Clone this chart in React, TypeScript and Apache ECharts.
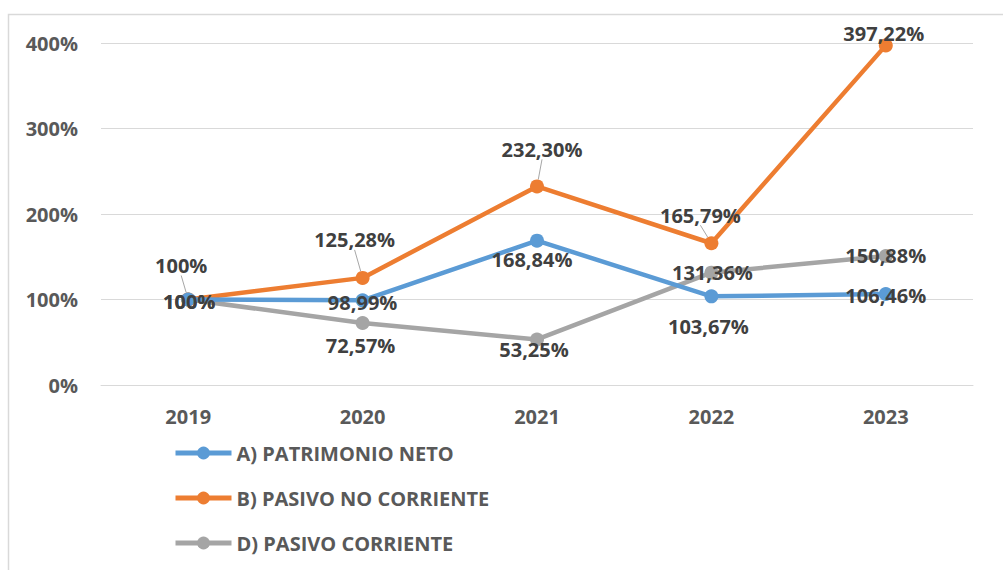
import React, { useEffect, useRef } from "react";
import * as echarts from "echarts";

const years = ["2019", "2020", "2021", "2022", "2023"];
const patrimonioNeto = [100, 98.99, 168.84, 103.67, 106.46];
const pasivoNoCorriente = [100, 125.28, 232.3, 165.79, 397.22];
const pasivoCorriente = [100, 72.57, 53.25, 131.36, 150.88];
const seriesNames = ["A) PATRIMONIO NETO", "B) PASIVO NO CORRIENTE", "D) PASIVO CORRIENTE"];
const yTicks = [0, 100, 200, 300, 400];

// label offsets (dx, dy) from each point
const offsA = [[1, 2], [0, 2], [-5, 19], [-3, 30], [0, 2]];
const offsB = [[-7, -34], [-8, -38], [5, -37], [-11, -28], [-2, -12]];
const offsC = [[1, 2], [-2, 23], [-3, 10], [1, 0], [0, 0]];

const FONT = "'Open Sans', 'Noto Sans', sans-serif";

function fmt(v: number): string {
  if (Math.round(v) === v) return v + "%";
  return v.toFixed(2).replace(".", ",") + "%";
}

export default function App() {
  const ref = useRef<HTMLDivElement>(null);
  useEffect(() => {
    if (!ref.current) return;
    const chart = echarts.init(ref.current, undefined, { renderer: "svg" });
    const mk = (name: string, data: number[], color: string, offs: number[][], z: number) => ({
      name,
      type: "line",
      data,
      z,
      symbol: "circle",
      symbolSize: 14,
      lineStyle: { width: 4.5, color },
      itemStyle: { color },
      label: {
        show: true,
        position: "inside",
        formatter: (p: any) => fmt(p.value),
        color: "#404040",
        fontFamily: FONT,
        fontWeight: "bold",
        fontSize: 20,
      },
      labelLayout: (p: any) => ({ dx: offs[p.dataIndex][0], dy: offs[p.dataIndex][1] }),
      labelLine: { show: color === "#ED7D31", lineStyle: { color: "#A6A6A6", width: 1 }, length2: 0 },
    });
    chart.setOption({
      animation: false,
      backgroundColor: "#ffffff",
      grid: { left: 101, right: 30, top: 43, bottom: 185 },
      xAxis: {
        type: "category",
        data: years,
        boundaryGap: true,
        axisLine: { show: true, lineStyle: { color: "#D9D9D9", width: 1 } },
        axisTick: { show: false },
        axisLabel: { color: "#595959", fontFamily: FONT, fontWeight: "bold", fontSize: 20, margin: 21 },
      },
      yAxis: {
        type: "value",
        min: yTicks[0],
        max: yTicks[yTicks.length - 1],
        interval: 100,
        axisLine: { show: false },
        axisTick: { show: false },
        splitLine: { lineStyle: { color: "#D9D9D9", width: 1 } },
        axisLabel: {
          color: "#595959",
          fontFamily: FONT,
          fontWeight: "bold",
          fontSize: 20,
          margin: 23,
          formatter: (v: number) => v + "%",
        },
      },
      legend: {
        orient: "vertical",
        left: 168,
        top: 438,
        itemWidth: 56,
        itemHeight: 16,
        itemGap: 25,
        data: seriesNames,
        lineStyle: { width: 5 },
        textStyle: { color: "#595959", fontFamily: FONT, fontWeight: "bold", fontSize: 20, lineHeight: 20 },
      },
      graphic: [
        {
          type: "rect",
          shape: { x: 8.5, y: 14.5, width: 1000, height: 600 },
          style: { fill: "none", stroke: "#D9D9D9", lineWidth: 1.5 },
          silent: true,
          z: -10,
        },
      ],
      series: [
        mk(seriesNames[0], patrimonioNeto, "#5B9BD5", offsA, 3),
        mk(seriesNames[1], pasivoNoCorriente, "#ED7D31", offsB, 2),
        mk(seriesNames[2], pasivoCorriente, "#A5A5A5", offsC, 1),
      ],
    });
    return () => chart.dispose();
  }, []);
  return <div ref={ref} style={{ position: "fixed", left: 0, top: 0, width: 1003, height: 570 }} />;
}
